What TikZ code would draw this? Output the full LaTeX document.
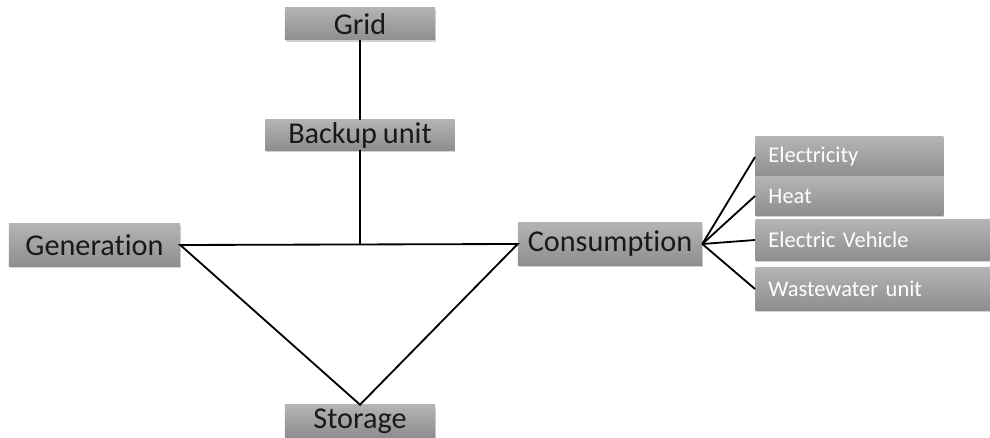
\documentclass[tikz,border=0pt]{standalone}
\usepackage{fontspec}
\setmainfont[Ligatures=NoCommon, WordSpace=0.85]{Carlito}
\usepackage{xcolor}
\definecolor{boxtop}{RGB}{180, 180, 180}
\definecolor{boxbot}{RGB}{142, 142, 142}
\usetikzlibrary{shadows,calc}

\tikzset{
    graybox/.style={rectangle, top color=boxtop, bottom color=boxbot, draw=none,
        drop shadow={opacity=0.35, shadow xshift=0.6pt, shadow yshift=-1.2pt},
        inner sep=0pt},
    mainbox/.style={graybox, font=\fontsize{21.5}{23}\selectfont, text=black!90},
    subbox/.style={graybox, anchor=west, font=\fontsize{16}{18}\selectfont, text=white,
        align=left, inner xsep=0.33cm},
    link/.style={line width=1.3pt, line join=miter}
}

\begin{document}
\begin{tikzpicture}[x=0.025cm, y=-0.025cm]
    \useasboundingbox (0,0) rectangle (990,438);

    % Main blocks
    \node[mainbox, minimum width=3.75cm, minimum height=0.8cm] (grid) at (360, 24) {Grid};
    \node[mainbox, minimum width=4.725cm, minimum height=0.75cm] (bak) at (360, 135) {Backup unit};
    \node[mainbox, minimum width=4.275cm, minimum height=1.05cm] (gen) at (94.5, 245) {Generation};
    \node[mainbox, minimum width=4.6cm, minimum height=1.05cm] (cons) at (610, 244) {Consumption};
    \node[mainbox, minimum width=3.75cm, minimum height=0.8cm] (sto) at (360, 421) {Storage};

    % Consumer blocks
    \node[subbox, text width=4.04cm, minimum height=1.0cm] (elec) at (755, 157) {Electricity};
    \node[subbox, text width=4.04cm, minimum height=0.95cm] (heat) at (755, 196) {Heat};
    \node[subbox, text width=5.215cm, minimum height=1.0cm] (ev) at (755, 240) {Electric Vehicle};
    \node[subbox, text width=5.215cm, minimum height=1.05cm] (waste) at (755, 289) {Wastewater unit};

    % Connections
    \draw[link] (grid) -- (bak);
    \draw[link] (bak) -- (bak |- cons.west);
    \draw[link] (gen.east) -- (cons.west) -- (sto.north) -- cycle;
    \foreach \n in {elec, heat, ev, waste}
        \draw[link] (cons.east) -- (\n.west);
\end{tikzpicture}
\end{document}
